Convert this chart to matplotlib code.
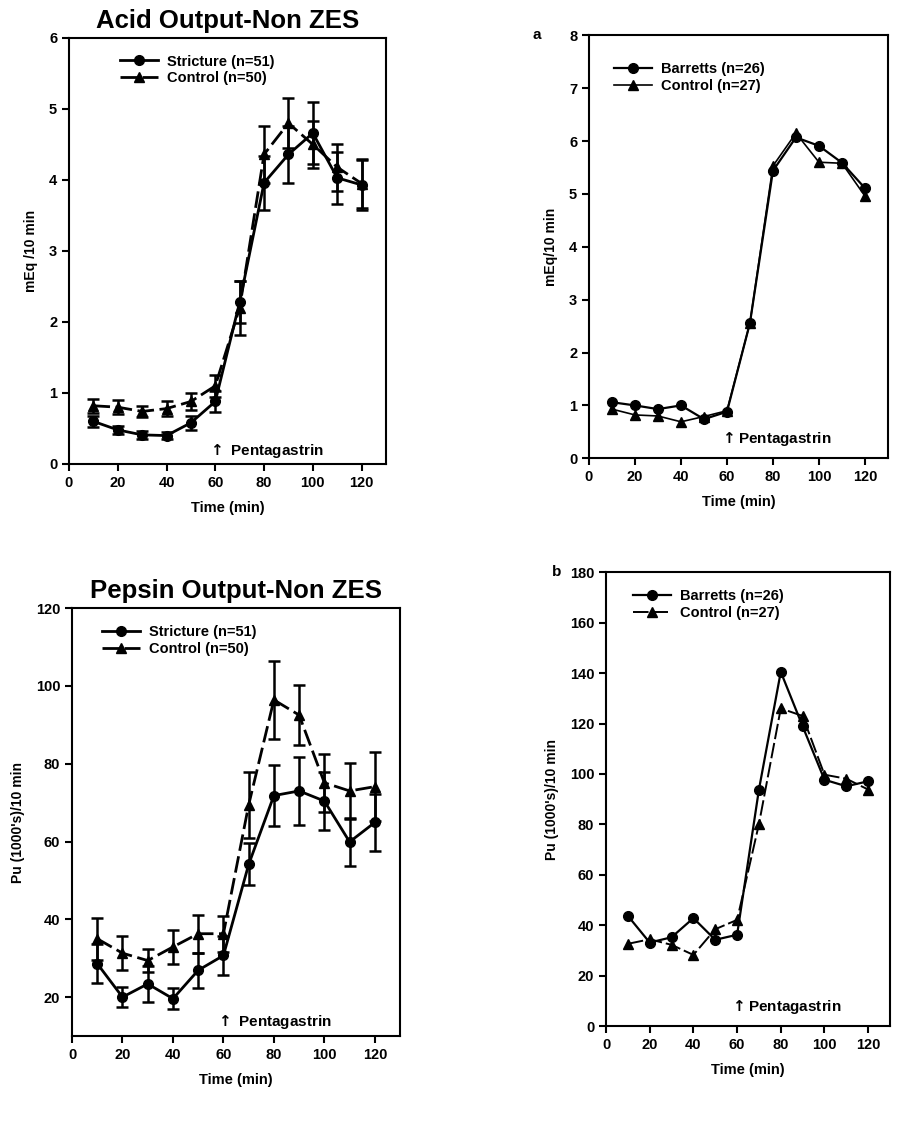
import matplotlib
matplotlib.use("Agg")
import matplotlib.pyplot as plt

plt.rcParams['font.family'] = ['Liberation Sans', 'DejaVu Sans']
plt.rcParams['font.weight'] = 'bold'

time = [10, 20, 30, 40, 50, 60, 70, 80, 90, 100, 110, 120]

# Acid output, non ZES
acid_stricture = [0.60, 0.48, 0.41, 0.40, 0.58, 0.88, 2.28, 3.96, 4.36, 4.66, 4.03, 3.93]
acid_stricture_err = [0.08, 0.06, 0.06, 0.05, 0.10, 0.15, 0.30, 0.38, 0.40, 0.44, 0.37, 0.35]
acid_control = [0.82, 0.80, 0.74, 0.78, 0.88, 1.10, 2.20, 4.36, 4.80, 4.50, 4.18, 3.95]
acid_control_err = [0.10, 0.10, 0.08, 0.10, 0.12, 0.15, 0.38, 0.40, 0.35, 0.33, 0.33, 0.35]

# Acid output, Barretts
acid_barretts = [1.06, 1.00, 0.93, 1.00, 0.74, 0.88, 2.56, 5.44, 6.07, 5.91, 5.59, 5.11]
acid_b_control = [0.93, 0.82, 0.80, 0.69, 0.79, 0.90, 2.56, 5.53, 6.15, 5.60, 5.58, 4.96]

# Pepsin output, non ZES
pep_stricture = [28.6, 20.0, 23.4, 19.6, 26.9, 30.7, 54.1, 71.8, 73.0, 70.4, 59.9, 64.9]
pep_stricture_err = [5.0, 2.6, 4.7, 2.7, 4.5, 5.0, 5.4, 7.8, 8.8, 7.5, 6.2, 7.3]
pep_control = [35.0, 31.3, 29.4, 32.9, 36.3, 36.3, 69.4, 96.4, 92.5, 75.1, 73.0, 74.1]
pep_control_err = [5.4, 4.4, 2.9, 4.3, 4.9, 4.6, 8.4, 10.0, 7.6, 7.4, 7.1, 8.8]

# Pepsin output, Barretts
pep_barretts = [43.7, 33.1, 35.2, 42.8, 34.2, 36.2, 93.8, 140.5, 118.9, 97.7, 95.1, 97.1]
pep_b_control = [32.6, 34.4, 32.2, 28.2, 38.4, 42.1, 80.1, 126.0, 123.0, 99.7, 98.1, 93.8]

xticks = [0, 20, 40, 60, 80, 100, 120]

fig = plt.figure(figsize=(8.97, 11.4), dpi=100)
ax1 = fig.add_axes([0.0769, 0.593, 0.3534, 0.3737])
ax2 = fig.add_axes([0.6566, 0.598, 0.3333, 0.371])
ax3 = fig.add_axes([0.0803, 0.0912, 0.3657, 0.3754])
ax4 = fig.add_axes([0.6756, 0.100, 0.3166, 0.398])

dash = (0, (6, 2))
arrow = r'$\mathbf{\uparrow}$'


def style(ax, ylim, yticks, ylabel):
    ax.set_xlim(0, 130)
    ax.set_ylim(*ylim)
    ax.set_xticks(xticks)
    ax.set_yticks(yticks)
    ax.tick_params(direction='out', length=5, width=1.5, labelsize=10.5)
    for s in ax.spines.values():
        s.set_linewidth(1.5)
    for lab in ax.get_xticklabels() + ax.get_yticklabels():
        lab.set_fontweight('bold')
    ax.set_xlabel('Time (min)', fontsize=10.5, fontweight='bold', labelpad=8)
    ax.set_ylabel(ylabel, fontsize=10, fontweight='bold', labelpad=8)


def leg(ax, anchor, handles=None):
    kw = dict(loc='upper left', bbox_to_anchor=anchor, frameon=False,
              handlelength=2.6, handletextpad=0.6, labelspacing=0.2, borderpad=0.2,
              prop={'weight': 'bold', 'size': 10.5})
    if handles is None:
        ax.legend(**kw)
    else:
        ax.legend(handles=handles, **kw)


# top left
e1 = ax1.errorbar(time, acid_stricture, yerr=acid_stricture_err, color='black', lw=2,
                  marker='o', ms=7, capsize=4, capthick=1.8, elinewidth=1.8)
e2 = ax1.errorbar(time, acid_control, yerr=acid_control_err, color='black', lw=2,
                  ls=dash, marker='^', ms=7, capsize=4, capthick=1.8, elinewidth=1.8)
style(ax1, (0, 6), range(0, 7), 'mEq /10 min')
ax1.set_title('Acid Output-Non ZES', fontsize=18.5, fontweight='bold', pad=7)
ax1.text(56.5, 0.13, arrow + ' Pentagastrin', fontsize=11, fontweight='bold')
e1.lines[0].set_label('Stricture (n=51)')
e2.lines[0].set_label('Control (n=50)')
leg(ax1, (0.13, 0.985), [e1.lines[0], e2.lines[0]])

# top right
ax2.plot(time, acid_barretts, color='black', lw=1.6, marker='o', ms=7,
         label='Barretts (n=26)')
ax2.plot(time, acid_b_control, color='black', lw=1.2, marker='^', ms=7,
         label='Control (n=27)')
style(ax2, (0, 8), range(0, 9), 'mEq/10 min')
ax2.text(56.5, 0.28, arrow + 'Pentagastrin', fontsize=11, fontweight='bold')
ax2.text(-0.19, 1.0, 'a', transform=ax2.transAxes, fontsize=11, fontweight='bold',
         va='center')
leg(ax2, (0.05, 0.96))

# bottom left
e3 = ax3.errorbar(time, pep_stricture, yerr=pep_stricture_err, color='black', lw=2,
                  marker='o', ms=7, capsize=4, capthick=1.8, elinewidth=1.8)
e4 = ax3.errorbar(time, pep_control, yerr=pep_control_err, color='black', lw=2,
                  ls=dash, marker='^', ms=7, capsize=4, capthick=1.8, elinewidth=1.8)
style(ax3, (10, 120), range(20, 121, 20), "Pu (1000's)/10 min")
ax3.set_title('Pepsin Output-Non ZES', fontsize=18.5, fontweight='bold', pad=7)
ax3.text(56.5, 12.5, arrow + ' Pentagastrin', fontsize=11, fontweight='bold')
e3.lines[0].set_label('Stricture (n=51)')
e4.lines[0].set_label('Control (n=50)')
leg(ax3, (0.06, 0.985), [e3.lines[0], e4.lines[0]])

# bottom right
ax4.plot(time, pep_barretts, color='black', lw=1.6, marker='o', ms=7,
         label='Barretts (n=26)')
ax4.plot(time, pep_b_control, color='black', lw=1.4, ls=(0, (8, 2)), marker='^', ms=7,
         label='Control (n=27)')
style(ax4, (0, 180), range(0, 181, 20), "Pu (1000's)/10 min")
ax4.text(56.5, 6.0, arrow + 'Pentagastrin', fontsize=11, fontweight='bold')
ax4.text(-0.19, 1.0, 'b', transform=ax4.transAxes, fontsize=11, fontweight='bold',
         va='center')
leg(ax4, (0.06, 0.985))

fig.savefig('out.png', dpi=100)
